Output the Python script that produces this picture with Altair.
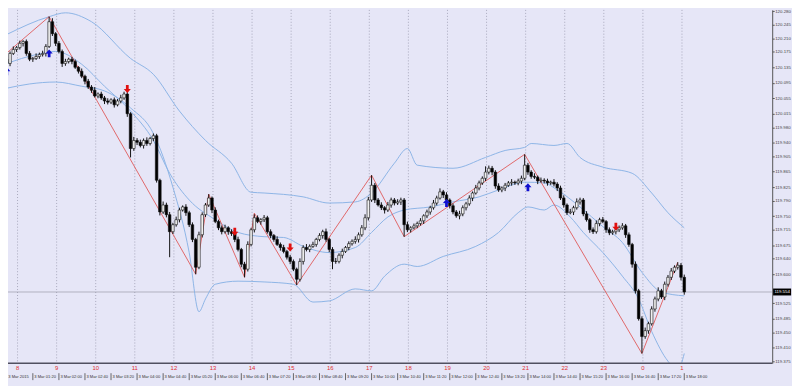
import altair as alt
import pandas as pd

# ---------------- data ----------------
# M5 bars, 3 Mar 2015, first bar 00:40 (minutes since 00:00), one bar every 5 minutes
START_MIN = 40
BAR_MIN = 5
first_open = 120.156
closes = [
    120.145, 120.171, 120.181, 120.186, 120.197, 120.202, 120.171, 120.156, 120.158, 120.163,
    120.168, 120.171, 120.189, 120.253, 120.222, 120.197, 120.176, 120.145, 120.150, 120.156,
    120.150, 120.135, 120.125, 120.112, 120.099, 120.084, 120.076, 120.061, 120.066, 120.056,
    120.048, 120.045, 120.051, 120.038, 120.048, 120.056, 120.066, 120.015, 119.925, 119.946,
    119.941, 119.933, 119.946, 119.938, 119.951, 119.958, 119.843, 119.761, 119.779, 119.754,
    119.710, 119.728, 119.741, 119.766, 119.774, 119.759, 119.728, 119.690, 119.618, 119.702,
    119.754, 119.779, 119.797, 119.766, 119.736, 119.720, 119.710, 119.720, 119.710, 119.705,
    119.690, 119.664, 119.626, 119.613, 119.677, 119.715, 119.746, 119.736, 119.741, 119.746,
    119.710, 119.700, 119.690, 119.677, 119.669, 119.659, 119.644, 119.633, 119.613, 119.587,
    119.633, 119.669, 119.664, 119.672, 119.677, 119.690, 119.700, 119.710, 119.690, 119.664,
    119.633, 119.633, 119.649, 119.659, 119.669, 119.679, 119.685, 119.690, 119.702, 119.720,
    119.746, 119.792, 119.830, 119.792, 119.779, 119.772, 119.766, 119.779, 119.792, 119.784,
    119.787, 119.792, 119.728, 119.715, 119.720, 119.725, 119.731, 119.738, 119.751, 119.761,
    119.772, 119.784, 119.797, 119.813, 119.805, 119.792, 119.777, 119.761, 119.751, 119.756,
    119.772, 119.782, 119.797, 119.810, 119.823, 119.836, 119.848, 119.864, 119.874, 119.864,
    119.828, 119.818, 119.823, 119.830, 119.836, 119.838, 119.836, 119.841, 119.848, 119.882,
    119.864, 119.853, 119.851, 119.841, 119.843, 119.841, 119.836, 119.838, 119.833, 119.823,
    119.797, 119.779, 119.759, 119.761, 119.772, 119.787, 119.792, 119.756, 119.741, 119.715,
    119.710, 119.731, 119.741, 119.736, 119.715, 119.707, 119.710, 119.715, 119.720, 119.725,
    119.702, 119.677, 119.626, 119.557, 119.485, 119.439, 119.454, 119.472, 119.510, 119.536,
    119.557, 119.541, 119.574, 119.592, 119.608, 119.618, 119.623, 119.592, 119.554,
]
# wick lengths above / below the body, in 0.001
wick_up = [
    6, 5, 8, 4, 7, 3, 5, 6, 4, 8,   5, 7, 6, 13, 9, 4, 6, 5, 7, 4,
    6, 5, 3, 7, 4, 6, 5, 8, 4, 6,   5, 7, 4, 6, 5, 8, 6, 5, 4, 9,
    6, 7, 5, 8, 4, 6, 5, 4, 9, 6,   7, 5, 8, 6, 4, 7, 5, 6, 4, 8,
    6, 5, 10, 4, 7, 5, 6, 8, 4, 6,  5, 7, 4, 6, 8, 5, 9, 6, 4, 7,
    5, 6, 4, 8, 5, 7, 4, 6, 5, 4,   8, 6, 9, 5, 7, 4, 6, 5, 8, 4,
    6, 9, 5, 7, 4, 6, 5, 8, 6, 7,   9, 8, 26, 6, 5, 7, 4, 8, 6, 5,
    7, 6, 5, 8, 4, 6, 5, 7, 4, 6,   5, 8, 6, 9, 5, 7, 4, 6, 5, 8,
    6, 5, 7, 4, 8, 6, 5, 15, 7, 6,  5, 7, 4, 6, 5, 8, 4, 6, 7, 28,
    6, 5, 8, 4, 7, 5, 6, 4, 8, 5,   6, 7, 4, 8, 5, 9, 6, 5, 7, 4,
    6, 8, 5, 7, 4, 6, 5, 8, 6, 7,   5, 6, 4, 7, 5, 6, 8, 5, 7, 6,
    9, 5, 7, 6, 8, 5, 8, 6, 7,
]
wick_dn = [
    5, 7, 4, 6, 5, 8, 6, 5, 7, 4,   6, 5, 8, 4, 6, 7, 5, 9, 6, 5,
    7, 4, 6, 5, 8, 5, 7, 4, 6, 5,   8, 6, 5, 7, 4, 6, 5, 8, 23, 6,
    7, 5, 8, 6, 5, 7, 6, 9, 5, 7,   66, 6, 5, 7, 4, 8, 6, 7, 18, 5,
    7, 6, 5, 8, 4, 6, 7, 5, 8, 6,   7, 5, 8, 21, 6, 5, 7, 4, 8, 6,
    5, 7, 6, 4, 8, 5, 6, 7, 5, 15,  6, 8, 5, 7, 4, 6, 5, 8, 6, 7,
    20, 6, 5, 8, 4, 7, 5, 6, 8, 5,  6, 7, 5, 8, 4, 6, 9, 5, 7, 6,
    5, 8, 31, 6, 7, 4, 6, 5, 8, 6,  7, 5, 6, 4, 8, 5, 7, 6, 5, 9,
    6, 7, 5, 8, 4, 6, 5, 7, 6, 8,   7, 5, 6, 8, 4, 7, 5, 6, 8, 5,
    7, 6, 5, 8, 4, 6, 7, 5, 6, 8,   5, 7, 6, 4, 8, 5, 7, 6, 5, 8,
    6, 5, 7, 4, 8, 6, 5, 7, 6, 5,   8, 6, 9, 7, 5, 44, 6, 8, 5, 7,
    6, 5, 8, 6, 7, 5, 6, 8, 7,
]

# Bollinger bands (bar index, price)
upper_bars = [0, 13, 18, 26, 38, 45, 53, 61, 69, 75, 79, 91, 99, 107, 112, 119, 123, 126, 137, 147,
              153, 159, 161, 168, 172, 176, 183, 192, 198, 203, 208]
upper_vals = [120.220, 120.266, 120.276, 120.253, 120.158, 120.117, 120.022, 119.946, 119.887, 119.812,
              119.810, 119.800, 119.784, 119.787, 119.810, 119.887, 119.925, 119.882, 119.874, 119.902,
              119.920, 119.928, 119.938, 119.933, 119.938, 119.902, 119.877, 119.861, 119.810, 119.759, 119.720]
middle_bars = [0, 9, 15, 23, 30, 38, 45, 50, 56, 64, 71, 79, 85, 91, 99, 107, 112, 117, 122, 130,
               137, 145, 151, 159, 165, 169, 176, 183, 189, 195, 201, 208]
middle_vals = [120.145, 120.168, 120.176, 120.143, 120.086, 120.022, 119.946, 119.861, 119.792, 119.741,
               119.708, 119.697, 119.695, 119.672, 119.656, 119.669, 119.708, 119.748, 119.766, 119.774,
               119.787, 119.800, 119.818, 119.838, 119.836, 119.818, 119.774, 119.723, 119.682, 119.605,
               119.554, 119.544]
lower_bars = [0, 7, 15, 23, 30, 38, 45, 51, 56, 59, 61, 64, 71, 79, 88, 94, 99, 107, 112, 116,
              122, 126, 134, 144, 151, 157, 160, 165, 168, 173, 177, 183, 189, 194, 198, 203, 206, 208]
lower_vals = [120.081, 120.092, 120.097, 120.086, 120.074, 120.030, 119.964, 119.825, 119.656, 119.503,
              119.536, 119.574, 119.582, 119.580, 119.574, 119.528, 119.531, 119.562, 119.557, 119.595,
              119.626, 119.620, 119.646, 119.672, 119.708, 119.759, 119.774, 119.766, 119.779, 119.748,
              119.708, 119.656, 119.595, 119.536, 119.452, 119.375, 119.352, 119.395]

# ZigZag vertices (bar index, price)
zz_bars = [0, 13, 58, 62, 73, 76, 89, 112, 122, 159, 195, 206]
zz_vals = [120.172, 120.266, 119.600, 119.807, 119.592, 119.758, 119.572, 119.856, 119.697, 119.910,
           119.395, 119.631]

# signal arrows
up_bars = [0, 13, 135, 160]
up_vals = [120.125, 120.171, 119.784, 119.825]
dn_bars = [37, 70, 87, 187]
dn_vals = [120.079, 119.710, 119.669, 119.723]

# price axis labels
price_ticks = [120.280, 120.245, 120.210, 120.175, 120.135, 120.095, 120.055, 120.015, 119.980,
               119.940, 119.905, 119.865, 119.825, 119.790, 119.750, 119.715, 119.675, 119.640,
               119.600, 119.525, 119.485, 119.450, 119.410, 119.375]
last_price = 119.554

# hour indicator labels (red) and time axis labels
hour_labels = ["8", "9", "10", "11", "12", "13", "14", "15", "16", "17", "18", "19", "20", "21",
               "22", "23", "0", "1"]
HOUR_FIRST_MIN = 56.5
time_labels = ["3 Mar 2015", "3 Mar 01:20", "3 Mar 02:00", "3 Mar 02:40", "3 Mar 03:20",
               "3 Mar 04:00", "3 Mar 04:40", "3 Mar 05:20", "3 Mar 06:00", "3 Mar 06:40",
               "3 Mar 07:20", "3 Mar 08:00", "3 Mar 08:40", "3 Mar 09:20", "3 Mar 10:00",
               "3 Mar 10:40", "3 Mar 11:20", "3 Mar 12:00", "3 Mar 12:40", "3 Mar 13:20",
               "3 Mar 14:00", "3 Mar 14:40", "3 Mar 15:20", "3 Mar 16:00", "3 Mar 16:40",
               "3 Mar 17:20", "3 Mar 18:00"]
TIME_LABEL_STEP = 40

# ---------------- tables ----------------
def bar_t(i):
    return START_MIN + BAR_MIN * i

opens = [first_open] + closes[:-1]
rows = []
for i, (o, c, wu, wd) in enumerate(zip(opens, closes, wick_up, wick_dn)):
    rows.append(dict(t=bar_t(i), lo=min(o, c), hi=max(o, c),
                     low=min(o, c) - wd / 1000.0, high=max(o, c) + wu / 1000.0,
                     dir="up" if c >= o else "down"))
candles = pd.DataFrame(rows)

bands = pd.concat([
    pd.DataFrame(dict(t=[bar_t(b) for b in upper_bars], price=upper_vals, band="upper")),
    pd.DataFrame(dict(t=[bar_t(b) for b in middle_bars], price=middle_vals, band="middle")),
    pd.DataFrame(dict(t=[bar_t(b) for b in lower_bars], price=lower_vals, band="lower")),
])
zz = pd.DataFrame(dict(t=[bar_t(b) for b in zz_bars], price=zz_vals))
ups = pd.DataFrame(dict(t=[bar_t(b) for b in up_bars], price=up_vals))
dns = pd.DataFrame(dict(t=[bar_t(b) for b in dn_bars], price=dn_vals))
hours = pd.DataFrame(dict(t=[HOUR_FIRST_MIN + 60 * k for k in range(len(hour_labels))],
                          label=hour_labels))
tlabels = pd.DataFrame(dict(t=[START_MIN + TIME_LABEL_STEP * k for k in range(len(time_labels))],
                            label=time_labels))
lastdf = pd.DataFrame(dict(price=[last_price], label=[f"{last_price:.3f}"]))

# ---------------- chart ----------------
W, H = 772, 357
BG = "#E6E6F7"
FONT = "Liberation Sans"
xs = alt.Scale(domain=[49.45, 1207.4], nice=False, zero=False)
ys = alt.Scale(domain=[119.3696, 120.2835], nice=False, zero=False)
yax = alt.Axis(orient="right", values=price_ticks, format=".3f", title=None, grid=False,
               labelFontSize=4.4, labelColor="#444", labelPadding=0.5, tickSize=2,
               tickColor="#555", domainColor="#555", labelOverlap=False, labelFlush=False,
               labelFont=FONT)
X = alt.X("t:Q", scale=xs, axis=None)

grid = alt.Chart(hours).mark_rule(color="#A8A8BC", strokeWidth=1, strokeDash=[1, 2]).encode(x=X)

lastline = alt.Chart(lastdf).mark_rule(color="#9A9AA8", strokeWidth=0.7).encode(
    y=alt.Y("price:Q", scale=ys, axis=yax))

band_lines = alt.Chart(bands).mark_line(color="#8DB4E6", strokeWidth=1, clip=True,
                                        interpolate="monotone").encode(
    x=X, y=alt.Y("price:Q", scale=ys, axis=yax), detail="band:N")

zigzag = alt.Chart(zz).mark_line(color="#E05A5A", strokeWidth=0.9, clip=True).encode(
    x=X, y=alt.Y("price:Q", scale=ys, axis=yax))

wicks = alt.Chart(candles).mark_rule(color="#111111", strokeWidth=1, clip=True).encode(
    x=X, y=alt.Y("low:Q", scale=ys, axis=yax), y2="high:Q")

bodies = alt.Chart(candles).mark_bar(size=2.6, stroke="#111111", strokeWidth=0.6, clip=True).encode(
    x=X, y=alt.Y("lo:Q", scale=ys, axis=yax), y2="hi:Q",
    fill=alt.Fill("dir:N", scale=alt.Scale(domain=["up", "down"], range=["#F0F0F0", "#000000"]),
                  legend=None))

UP = "M0,-1L0.9,0L0.35,0L0.35,1L-0.35,1L-0.35,0L-0.9,0Z"
DN = "M0,1L0.9,0L0.35,0L0.35,-1L-0.35,-1L-0.35,0L-0.9,0Z"
up_arrows = alt.Chart(ups).mark_point(shape=UP, filled=True, size=64, color="#1010D0", opacity=1).encode(
    x=X, y=alt.Y("price:Q", scale=ys, axis=yax))
dn_arrows = alt.Chart(dns).mark_point(shape=DN, filled=True, size=64, color="#E01010", opacity=1).encode(
    x=X, y=alt.Y("price:Q", scale=ys, axis=yax))

bottom_line = alt.Chart(lastdf).mark_rule(color="#505060", strokeWidth=1.6).encode(
    x=alt.value(0), x2=alt.value(W), y=alt.value(H))

hour_text = alt.Chart(hours).mark_text(color="#E03030", fontSize=6, font=FONT,
                                       baseline="middle", align="center").encode(
    x=X, y=alt.value(H + 4.5), text="label:N")

time_ticks = alt.Chart(tlabels).mark_rule(color="#444", strokeWidth=0.8).encode(
    x=X, y=alt.value(H + 10), y2=alt.value(H + 17))
time_text = alt.Chart(tlabels).mark_text(color="#333", fontSize=4.1, font=FONT,
                                         baseline="middle", align="left", dx=1.5).encode(
    x=X, y=alt.value(H + 13.5), text="label:N")

box_shape = "M-2.6,-1L2.6,-1L2.6,1L-2.6,1Z"
last_box = alt.Chart(lastdf).mark_point(shape=box_shape, filled=True, size=49, color="#000000",
                                        opacity=1).encode(
    x=alt.value(W + 10), y=alt.Y("price:Q", scale=ys, axis=yax))
last_text = alt.Chart(lastdf).mark_text(color="#FFFFFF", fontSize=4.4, font=FONT,
                                        baseline="middle", align="center").encode(
    x=alt.value(W + 10), y=alt.Y("price:Q", scale=ys, axis=yax), text="label:N")

chart = alt.layer(
    grid, lastline, band_lines, zigzag, wicks, bodies, up_arrows, dn_arrows,
    bottom_line, hour_text, time_ticks, time_text, last_box, last_text,
).properties(
    width=W, height=H,
    autosize=alt.AutoSizeParams(type="none"),
    padding={"left": 0, "top": 0, "right": 20, "bottom": 21},
).configure(background=BG).configure_view(stroke=None)

chart.save("out.html", embed_options={"renderer": "svg", "actions": False})
